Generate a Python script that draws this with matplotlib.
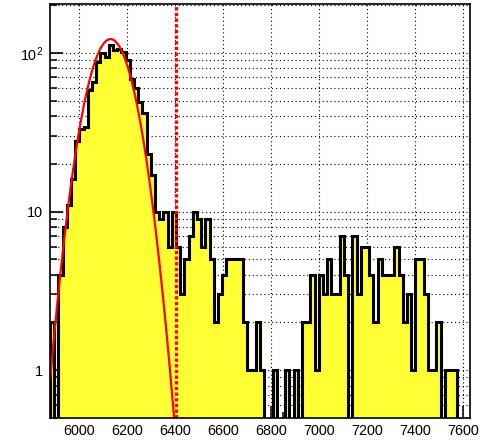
import matplotlib.pyplot as plt
import numpy as np
from matplotlib.ticker import MultipleLocator, LogLocator, FuncFormatter, NullFormatter

plt.rcParams['font.family'] = ['Liberation Sans', 'DejaVu Sans']
plt.rcParams['mathtext.fontset'] = 'custom'
plt.rcParams['mathtext.rm'] = 'Liberation Sans'
plt.rcParams['mathtext.it'] = 'Liberation Sans:italic'

# histogram: 100 bins from 5880 to 7630
x_lo, x_hi, n_bins = 5880, 7630, 100
counts = np.array([
    2, 0, 4, 8, 11, 16, 28, 33, 34, 58,
    65, 88, 100, 94, 112, 104, 106, 101, 90, 68,
    60, 49, 42, 23, 17, 10, 9, 10, 6, 10,
    6, 3, 5, 7, 10, 9, 6, 9, 5, 2,
    3, 4, 5, 5, 5, 5, 2, 1, 1, 2,
    1, 0, 0, 1, 0, 0, 1, 0, 1, 0,
    2, 2, 4, 1, 4, 3, 5, 3, 3, 7,
    4, 0, 7, 3, 6, 6, 4, 2, 5, 4,
    4, 4, 6, 4, 2, 3, 1, 5, 5, 3,
    1, 1, 2, 0, 1, 1, 1, 0, 0, 0,
])

# gaussian fit and the cut position
fit_const, fit_mean, fit_sigma = 122.0, 6132.0, 80.0
fit_lo, fit_hi = 5880, 6405
cut = 6405

edges = np.linspace(x_lo, x_hi, n_bins + 1)
y_floor = 1e-2  # empty bins go below the axis
shown = np.clip(counts, y_floor, None)

fig = plt.figure(figsize=(4.81, 4.42), dpi=100)
ax = fig.add_axes([50/481, 1 - 418/442, 420/481, 414/442])
ax.set_yscale('log')

ax.stairs(shown, edges, baseline=y_floor, fill=True, color='#ffff33', zorder=2)
ax.stairs(shown, edges, baseline=y_floor, color='black', lw=2.2, zorder=3)

xf = np.linspace(fit_lo, fit_hi, 300)
yf = fit_const * np.exp(-0.5 * ((xf - fit_mean) / fit_sigma) ** 2)
ax.plot(xf, yf, color='red', lw=1.6, zorder=4)

ax.axvline(cut, color='red', lw=2.4, dashes=(1, 0.7), zorder=5)

ax.set_xlim(x_lo, x_hi)
ax.set_ylim(0.5, 203)

ax.xaxis.set_major_locator(MultipleLocator(200))
ax.xaxis.set_minor_locator(MultipleLocator(50))
ax.yaxis.set_major_locator(LogLocator(base=10, numticks=10))
ax.yaxis.set_minor_locator(LogLocator(base=10, subs=np.arange(2, 10), numticks=20))

def ylab(v, pos):
    if v == 1:
        return '1'
    if v == 10:
        return '10'
    return r'$10^{%d}$' % round(np.log10(v))

ax.yaxis.set_major_formatter(FuncFormatter(ylab))
ax.yaxis.set_minor_formatter(NullFormatter())

ax.tick_params(axis='x', which='major', direction='in', length=8.6, width=1.1,
               top=False, labelsize=10.4, pad=4)
ax.tick_params(axis='x', which='minor', direction='in', length=4.3, width=1.1, top=False)
ax.tick_params(axis='y', which='major', direction='in', length=9.4, width=1.2,
               right=False, labelsize=10.4, pad=5)
ax.tick_params(axis='y', which='minor', direction='in', length=5, width=1.1, right=False)

ax.set_axisbelow(True)
ax.grid(axis='x', which='major', color='black', lw=0.8, linestyle=(0, (1, 2.5)))
ax.grid(axis='y', which='both', color='black', lw=0.8, linestyle=(0, (1, 2.5)))

for s in ax.spines.values():
    s.set_linewidth(1.2)
    s.set_zorder(6)

fig.savefig('out.png', dpi=100)
